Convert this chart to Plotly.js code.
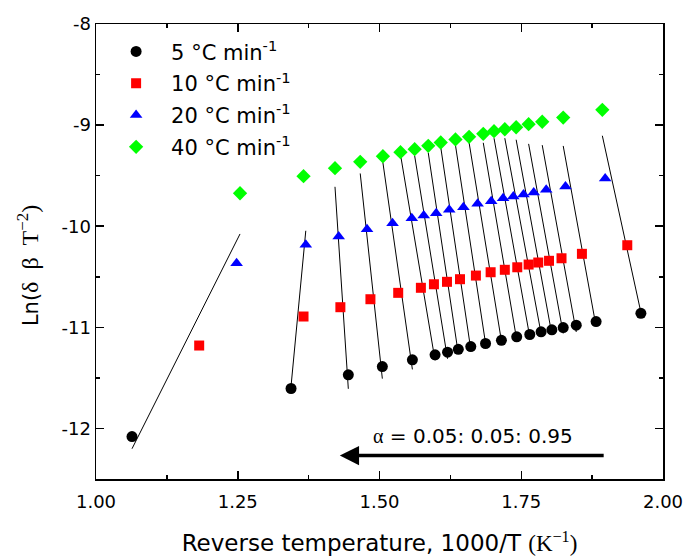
<!DOCTYPE html>
<html>
<head>
<meta charset="utf-8">
<script src="https://cdn.plot.ly/plotly-3.0.1.min.js"></script>
<style>html,body{margin:0;padding:0;background:#fff;}#chart{width:686px;height:559px;}</style>
</head>
<body>
<div id="chart"></div>
<script>
// Data (x = 1000/T, y = Ln(δβT^-2)), one point per α = 0.05 ... 0.95
const x5  = [1.0635, 1.344, 1.445, 1.505, 1.558, 1.598, 1.620, 1.639, 1.661, 1.687, 1.715, 1.742, 1.765, 1.785, 1.804, 1.824, 1.847, 1.882, 1.961];
const y5  = [-12.080, -11.605, -11.470, -11.388, -11.321, -11.272, -11.246, -11.217, -11.190, -11.160, -11.128, -11.094, -11.071, -11.044, -11.025, -11.002, -10.979, -10.943, -10.861];
const x10 = [1.182, 1.366, 1.431, 1.484, 1.533, 1.573, 1.596, 1.619, 1.642, 1.670, 1.696, 1.721, 1.743, 1.763, 1.780, 1.799, 1.821, 1.857, 1.937];
const y10 = [-11.180, -10.893, -10.801, -10.722, -10.659, -10.609, -10.574, -10.550, -10.524, -10.488, -10.455, -10.431, -10.406, -10.379, -10.359, -10.342, -10.317, -10.273, -10.188];
const x20 = [1.248, 1.370, 1.428, 1.478, 1.523, 1.557, 1.578, 1.600, 1.623, 1.648, 1.673, 1.697, 1.718, 1.736, 1.754, 1.772, 1.794, 1.828, 1.898];
const y20 = [-10.366, -10.184, -10.102, -10.030, -9.970, -9.921, -9.894, -9.871, -9.838, -9.812, -9.778, -9.753, -9.723, -9.706, -9.686, -9.667, -9.640, -9.607, -9.528];
const x40 = [1.254, 1.366, 1.4215, 1.466, 1.506, 1.537, 1.562, 1.586, 1.608, 1.634, 1.658, 1.683, 1.702, 1.721, 1.741, 1.763, 1.787, 1.824, 1.893];
const y40 = [-9.674, -9.505, -9.426, -9.363, -9.308, -9.268, -9.238, -9.205, -9.172, -9.142, -9.116, -9.086, -9.060, -9.041, -9.021, -8.991, -8.967, -8.925, -8.849];
const seriesNames = ['5 °C min<sup>-1</sup>', '10 °C min<sup>-1</sup>', '20 °C min<sup>-1</sup>', '40 °C min<sup>-1</sup>'];
const xTicks = [1.00, 1.25, 1.50, 1.75, 2.00];
const yTicks = [-12, -11, -10, -9, -8];

const font = 'DejaVu Sans, Liberation Sans, Arial, sans-serif';
const serif = 'Liberation Serif, Times New Roman, serif';
const arrowLabel = '<span style="font-family:' + serif + '">α</span> = 0.05: 0.05: 0.95';
const xTitle = 'Reverse temperature, 1000/T <span style="font-family:' + serif + '">(K<sup>−1</sup>)</span>';
const yTitle = 'Ln(<span style="font-family:' + serif + ';font-size:24px">δ\u2002β\u2002T<sup>−2</sup>)</span>';

const XS = [x5, x10, x20, x40];
const YS = [y5, y10, y20, y40];

// Linear (OLS) fit across the four heating rates for each conversion level
const fitX = [], fitY = [];
for (let i = 0; i < x5.length; i++) {
  const xs = XS.map(a => a[i]), ys = YS.map(a => a[i]);
  const n = xs.length;
  const mx = xs.reduce((s, v) => s + v, 0) / n, my = ys.reduce((s, v) => s + v, 0) / n;
  let sxy = 0, sxx = 0;
  for (let k = 0; k < n; k++) { sxy += (xs[k] - mx) * (ys[k] - my); sxx += (xs[k] - mx) ** 2; }
  const b = sxy / sxx, a = my - b * mx;
  const xmin = Math.min(...xs), xmax = Math.max(...xs);
  fitX.push(xmin, xmax, null);
  fitY.push(a + b * xmin, a + b * xmax, null);
}

const styles = [
  {symbol: 'circle', color: '#000000', size: 11},
  {symbol: 'square', color: '#ff0000', size: 10},
  {symbol: 'triangle-up', color: '#0000ff', size: 11},
  {symbol: 'diamond', color: '#00ff00', size: 11}
];

const traces = [{
  x: fitX, y: fitY, mode: 'lines', line: {color: '#000', width: 1}, showlegend: false, hoverinfo: 'skip'
}];
for (let s = 0; s < 4; s++) {
  traces.push({
    x: XS[s], y: YS[s], mode: 'markers', name: seriesNames[s], legendgroup: 'g' + s,
    marker: {symbol: styles[s].symbol, color: styles[s].color, size: styles[s].size, line: {width: 0}}
  });
}

const axisCommon = {
  showline: true, linecolor: '#000', linewidth: 1.5, mirror: 'ticks',
  ticks: 'inside', ticklen: 8, tickwidth: 1.5, tickcolor: '#000',
  showgrid: false, zeroline: false,
  tickfont: {family: font, size: 18, color: '#000'}
};

const layout = {
  width: 686, height: 559,
  margin: {l: 96, r: 23, t: 24, b: 80},
  paper_bgcolor: '#fff', plot_bgcolor: '#fff',
  showlegend: true,
  legend: {x: 0.009, y: 0.984, xanchor: 'left', yanchor: 'top', bgcolor: 'rgba(0,0,0,0)',
           itemwidth: 60, tracegroupgap: 1.5,
           font: {family: font, size: 21, color: '#000'}},
  xaxis: Object.assign({}, axisCommon, {
    range: [1.0, 2.0], tickvals: xTicks, ticktext: xTicks.map(v => v.toFixed(2)),
    ticklabelstandoff: 6,
    minor: {dtick: 0.125, ticks: 'inside', ticklen: 4, tickwidth: 1.5, tickcolor: '#000'},
    title: {text: xTitle, font: {family: font, size: 23, color: '#000'}, standoff: 24}
  }),
  yaxis: Object.assign({}, axisCommon, {
    range: [-12.5, -8], tickvals: yTicks, ticktext: yTicks.map(String),
    minor: {dtick: 0.5, ticks: 'inside', ticklen: 4, tickwidth: 1.5, tickcolor: '#000'}
  }),
  annotations: [
    {x: 1.43, y: -12.268, ax: 1.898, ay: -12.268, xref: 'x', yref: 'y', axref: 'x', ayref: 'y',
     text: '', showarrow: true, arrowhead: 2, arrowsize: 1.1, arrowwidth: 3.5, arrowcolor: '#000'},
    {x: 1.665, y: -12.07, xref: 'x', yref: 'y', text: arrowLabel, showarrow: false,
     font: {family: font, size: 20, color: '#000'}},
    {x: -0.12, y: 0.47, xref: 'paper', yref: 'paper', text: yTitle, showarrow: false,
     textangle: -90, xanchor: 'center', yanchor: 'middle',
     font: {family: font, size: 21, color: '#000'}}
  ]
};

Plotly.newPlot('chart', traces, layout, {displayModeBar: false, staticPlot: true});
</script>
</body>
</html>
